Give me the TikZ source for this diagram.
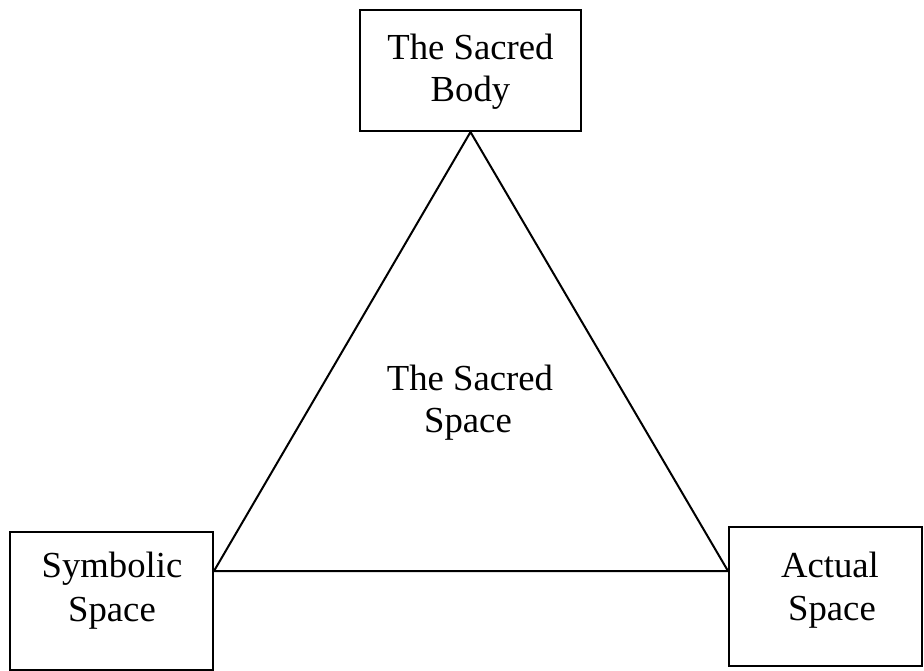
\documentclass[tikz,border=0pt]{standalone}
\usepackage{fontspec}
\setmainfont{Liberation Serif}
\begin{document}
\begin{tikzpicture}[x=1pt,y=-1pt,
  box/.style={draw=black, line width=2pt, inner sep=0pt, fill=white},
  txt/.style={inner sep=0pt, anchor=base, font=\fontsize{36.7}{42}\selectfont},
  edge/.style={draw=black, line width=2pt, line join=miter}]
\useasboundingbox (0,0) rectangle (924,671);
% boxes
\node[box, minimum width=221pt, minimum height=121pt] (body) at (470.5,70.5) {};
\node[box, minimum width=203pt, minimum height=138pt] (sym) at (111.5,601) {};
\node[box, minimum width=193pt, minimum height=139pt] (act) at (825.5,596.5) {};
% triangle corners
\path (sym.north east) ++(0,40) coordinate (L);
\path (act.north west) ++(0,45) coordinate (R);
\draw[edge] (body.south) -- (L) -- (R) -- cycle;
% texts
\node[txt] (t1) at (470.5,60) {The Sacred};
\node[txt] (t2) at (470.5,102) {Body};
\node[txt] (t3) at (112,577) {Symbolic};
\node[txt] (t4) at (112,621) {Space};
\node[txt] (t5) at (830,577) {Actual};
\node[txt] (t6) at (832,620) {Space};
\node[txt] (t7) at (470,390) {The Sacred};
\node[txt] (t8) at (468,432) {Space};
\end{tikzpicture}
\end{document}
